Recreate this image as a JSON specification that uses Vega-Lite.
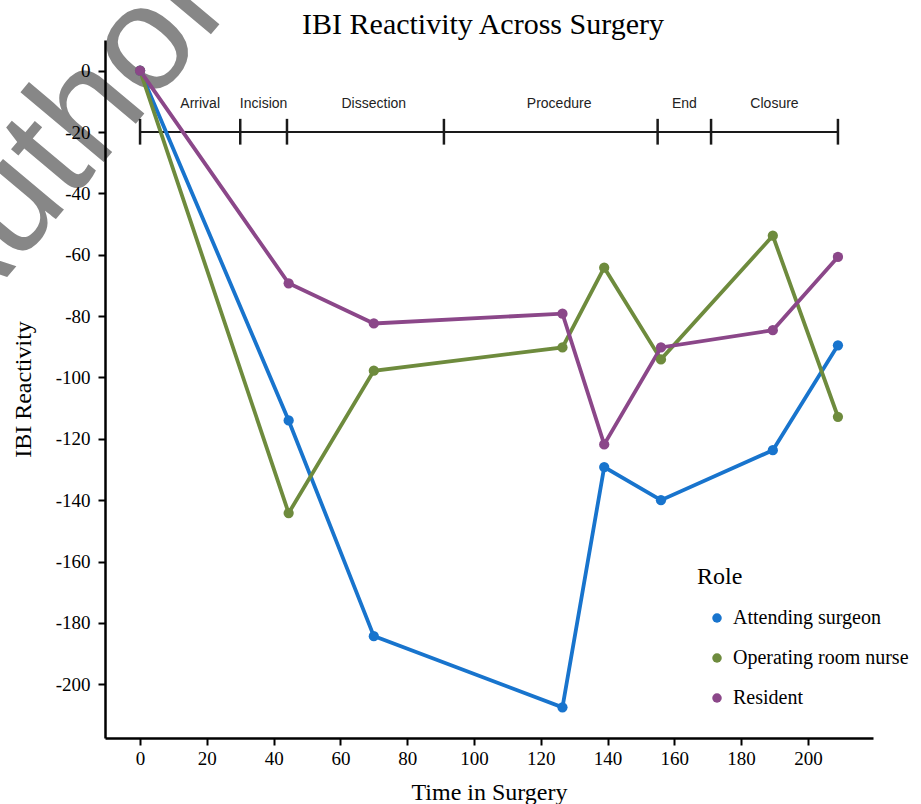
{
  "$schema": "https://vega.github.io/schema/vega-lite/v6.json",
  "width": 768,
  "height": 698,
  "autosize": {"type": "none"},
  "padding": {"left": 105, "top": 40, "right": 48, "bottom": 66},
  "background": "white",
  "title": {
    "text": "IBI Reactivity Across Surgery",
    "font": "Liberation Serif",
    "fontSize": 30,
    "fontWeight": "normal",
    "color": "#000000",
    "anchor": "middle",
    "frame": "group",
    "offset": 4,
    "dx": -6,
    "dy": 117
  },
  "config": {
    "locale": {"number": {"decimal": ".", "thousands": ",", "grouping": [3], "currency": ["$", ""], "minus": "-"}},
    "view": {"stroke": null},
    "axis": {
      "grid": false,
      "zindex": 1,
      "domainColor": "#000000",
      "domainWidth": 2.5,
      "tickColor": "#000000",
      "tickWidth": 2,
      "tickSize": 7,
      "labelFont": "Liberation Serif",
      "labelFontSize": 19,
      "labelColor": "#000000",
      "titleFont": "Liberation Serif",
      "titleFontSize": 24,
      "titleFontWeight": "normal",
      "titleColor": "#000000"
    },
    "legend": {
      "padding": 0,
      "titleFont": "Liberation Serif",
      "titleFontSize": 24,
      "titleFontWeight": "normal",
      "titleColor": "#000000",
      "titlePadding": 19,
      "labelFont": "Liberation Serif",
      "labelFontSize": 20,
      "labelColor": "#000000",
      "labelLimit": 300,
      "symbolType": "circle",
      "symbolSize": 90,
      "symbolStrokeWidth": 0,
      "symbolOffset": 10,
      "labelOffset": 6,
      "rowPadding": 20
    }
  },
  "datasets": {
    "ibi": [
      {"Role": "Attending surgeon", "Time": 0, "IBI": 0},
      {"Role": "Attending surgeon", "Time": 44.5, "IBI": -114},
      {"Role": "Attending surgeon", "Time": 70, "IBI": -184.3},
      {"Role": "Attending surgeon", "Time": 126.5, "IBI": -207.5},
      {"Role": "Attending surgeon", "Time": 139, "IBI": -129.2},
      {"Role": "Attending surgeon", "Time": 156, "IBI": -140},
      {"Role": "Attending surgeon", "Time": 189.5, "IBI": -123.7},
      {"Role": "Attending surgeon", "Time": 209, "IBI": -89.5},
      {"Role": "Operating room nurse", "Time": 0, "IBI": 0},
      {"Role": "Operating room nurse", "Time": 44.5, "IBI": -144.2},
      {"Role": "Operating room nurse", "Time": 70, "IBI": -97.8},
      {"Role": "Operating room nurse", "Time": 126.5, "IBI": -90.2},
      {"Role": "Operating room nurse", "Time": 139, "IBI": -64.2},
      {"Role": "Operating room nurse", "Time": 156, "IBI": -94.1},
      {"Role": "Operating room nurse", "Time": 189.5, "IBI": -53.8},
      {"Role": "Operating room nurse", "Time": 209, "IBI": -112.8},
      {"Role": "Resident", "Time": 0, "IBI": 0},
      {"Role": "Resident", "Time": 44.5, "IBI": -69.3},
      {"Role": "Resident", "Time": 70, "IBI": -82.4},
      {"Role": "Resident", "Time": 126.5, "IBI": -79.2},
      {"Role": "Resident", "Time": 139, "IBI": -121.8},
      {"Role": "Resident", "Time": 156, "IBI": -90.2},
      {"Role": "Resident", "Time": 189.5, "IBI": -84.6},
      {"Role": "Resident", "Time": 209, "IBI": -60.7}
    ],
    "phases": [
      {"Phase": "Arrival", "Start": 0, "End": 30, "LabelAt": 18},
      {"Phase": "Incision", "Start": 30, "End": 44, "LabelAt": 37},
      {"Phase": "Dissection", "Start": 44, "End": 91, "LabelAt": 70},
      {"Phase": "Procedure", "Start": 91, "End": 155, "LabelAt": 125.5},
      {"Phase": "End", "Start": 155, "End": 171, "LabelAt": 163},
      {"Phase": "Closure", "Start": 171, "End": 209, "LabelAt": 190}
    ],
    "boundaries": [
      {"Time": 0}, {"Time": 30}, {"Time": 44}, {"Time": 91},
      {"Time": 155}, {"Time": 171}, {"Time": 209}
    ]
  },
  "layer": [
    {
      "data": {"values": [{"Mark": "Author"}]},
      "mark": {"type": "text", "font": "Liberation Sans", "fontSize": 150, "color": "#878787", "angle": 310, "align": "center", "baseline": "middle"},
      "encoding": {
        "text": {"field": "Mark"},
        "x": {"datum": -24, "type": "quantitative", "scale": {"domain": [-10.5, 219.5], "nice": false, "zero": false}},
        "y": {"datum": -24, "type": "quantitative", "scale": {"domain": [-217.5, 10], "nice": false, "zero": false}}
      }
    },
    {
      "data": {"name": "phases"},
      "mark": {"type": "rule", "color": "#1a1a1a", "strokeWidth": 2},
      "encoding": {
        "x": {"field": "Start", "type": "quantitative", "scale": {"domain": [-10.5, 219.5], "nice": false, "zero": false}},
        "x2": {"field": "End"},
        "y": {"datum": -20, "type": "quantitative", "scale": {"domain": [-217.5, 10], "nice": false, "zero": false}}
      }
    },
    {
      "data": {"name": "boundaries"},
      "mark": {"type": "rule", "color": "#1a1a1a", "strokeWidth": 2.5},
      "encoding": {
        "x": {"field": "Time", "type": "quantitative", "scale": {"domain": [-10.5, 219.5], "nice": false, "zero": false}},
        "y": {"datum": -15.7, "type": "quantitative", "scale": {"domain": [-217.5, 10], "nice": false, "zero": false}},
        "y2": {"datum": -24.1}
      }
    },
    {
      "data": {"name": "phases"},
      "mark": {"type": "text", "font": "Liberation Sans", "fontSize": 14, "color": "#222222", "baseline": "middle", "align": "center"},
      "encoding": {
        "text": {"field": "Phase"},
        "x": {"field": "LabelAt", "type": "quantitative", "scale": {"domain": [-10.5, 219.5], "nice": false, "zero": false}},
        "y": {"datum": -10.7, "type": "quantitative", "scale": {"domain": [-217.5, 10], "nice": false, "zero": false}}
      }
    },
    {
      "data": {"name": "ibi"},
      "mark": {"type": "line", "strokeWidth": 3.8},
      "encoding": {
        "x": {
          "field": "Time", "type": "quantitative",
          "scale": {"domain": [-10.5, 219.5], "nice": false, "zero": false},
          "axis": {"title": "Time in Surgery", "values": [0, 20, 40, 60, 80, 100, 120, 140, 160, 180, 200], "labelPadding": 4, "titlePadding": 12, "zindex": 1}
        },
        "y": {
          "field": "IBI", "type": "quantitative",
          "scale": {"domain": [-217.5, 10], "nice": false, "zero": false},
          "axis": {"title": "IBI Reactivity", "values": [0, -20, -40, -60, -80, -100, -120, -140, -160, -180, -200], "labelPadding": 8, "titlePadding": 20, "zindex": 1}
        },
        "stroke": {
          "field": "Role", "type": "nominal",
          "scale": {"domain": ["Attending surgeon", "Operating room nurse", "Resident"], "range": ["#1874CD", "#6E8B3D", "#8B4789"]},
          "legend": {"title": "Role", "orient": "none", "legendX": 592, "legendY": 525, "symbolType": "circle"}
        }
      }
    },
    {
      "data": {"name": "ibi"},
      "mark": {"type": "point", "shape": "circle", "filled": true, "opacity": 1, "size": 105},
      "encoding": {
        "x": {
          "field": "Time", "type": "quantitative",
          "scale": {"domain": [-10.5, 219.5], "nice": false, "zero": false},
          "axis": {"title": "Time in Surgery", "values": [0, 20, 40, 60, 80, 100, 120, 140, 160, 180, 200], "labelPadding": 4, "titlePadding": 12, "zindex": 1}
        },
        "y": {
          "field": "IBI", "type": "quantitative",
          "scale": {"domain": [-217.5, 10], "nice": false, "zero": false},
          "axis": {"title": "IBI Reactivity", "values": [0, -20, -40, -60, -80, -100, -120, -140, -160, -180, -200], "labelPadding": 8, "titlePadding": 20, "zindex": 1}
        },
        "color": {
          "field": "Role", "type": "nominal",
          "scale": {"domain": ["Attending surgeon", "Operating room nurse", "Resident"], "range": ["#1874CD", "#6E8B3D", "#8B4789"]},
          "legend": {"title": "Role", "orient": "none", "legendX": 592, "legendY": 525, "symbolType": "circle"}
        }
      }
    }
  ]
}
